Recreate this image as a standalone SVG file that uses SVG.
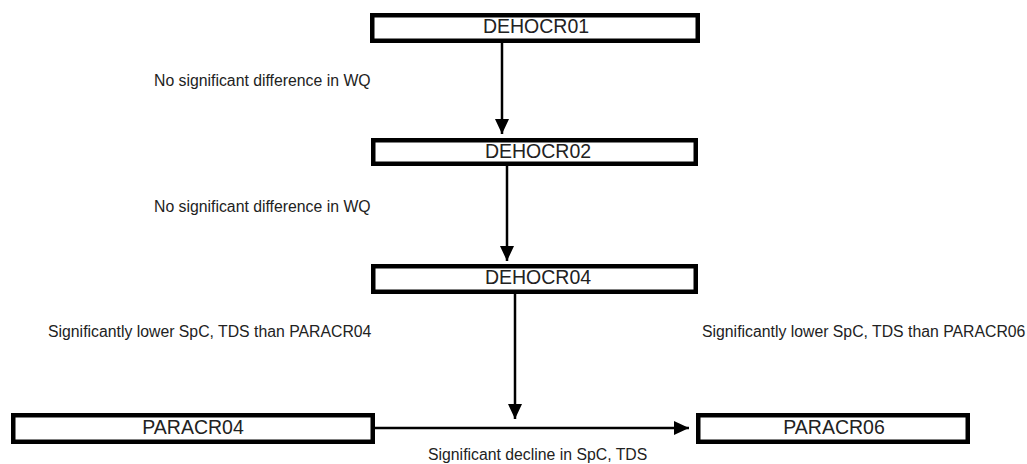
<svg xmlns="http://www.w3.org/2000/svg" width="1027" height="464" viewBox="0 0 1027 464">
<style>
.box{fill:#fff;stroke:#000;stroke-width:4.5}
.bt{font-family:"Liberation Sans",Arial,sans-serif;font-size:19.5px;fill:#222;text-anchor:middle}
.lb{font-family:"Liberation Sans",Arial,sans-serif;font-size:15.8px;fill:#222}
.ln{stroke:#000;stroke-width:2.5;fill:none}
</style>
<defs>
<marker id="ah" markerUnits="userSpaceOnUse" markerWidth="16" markerHeight="14" refX="15" refY="7" orient="auto">
<path d="M0,0 L15,7 L0,14 Z" fill="#000"/>
</marker>
</defs>
<rect width="1027" height="464" fill="#fff"/>
<g id="connectors">
<line class="ln" x1="502" y1="43" x2="502" y2="134" marker-end="url(#ah)"/>
<line class="ln" x1="507" y1="166" x2="507" y2="261" marker-end="url(#ah)"/>
<line class="ln" x1="515" y1="294" x2="515" y2="419" marker-end="url(#ah)"/>
<line class="ln" x1="375" y1="428" x2="689" y2="428" stroke-width="2" marker-end="url(#ah)"/>
</g>
<g id="DEHOCR01"><rect class="box" x="372.25" y="15.25" width="325.5" height="25.5"/><text class="bt" x="536" y="33">DEHOCR01</text></g>
<g id="DEHOCR02"><rect class="box" x="373.25" y="140.25" width="322.5" height="23.5"/><text class="bt" x="538" y="158">DEHOCR02</text></g>
<g id="DEHOCR04"><rect class="box" x="373.25" y="266.25" width="322.5" height="25.5"/><text class="bt" x="538" y="284">DEHOCR04</text></g>
<g id="PARACR04"><rect class="box" x="13.25" y="415.25" width="359.5" height="26.5"/><text class="bt" x="193" y="434">PARACR04</text></g>
<g id="PARACR06"><rect class="box" x="698.25" y="415.25" width="269.5" height="26.5"/><text class="bt" x="834" y="434">PARACR06</text></g>
<g id="labels">
<text class="lb" x="154" y="86">No significant difference in WQ</text>
<text class="lb" x="154" y="212">No significant difference in WQ</text>
<text class="lb" x="48" y="337">Significantly lower SpC, TDS than PARACR04</text>
<text class="lb" x="702" y="337">Significantly lower SpC, TDS than PARACR06</text>
<text class="lb" x="428" y="460">Significant decline in SpC, TDS</text>
</g>
</svg>
